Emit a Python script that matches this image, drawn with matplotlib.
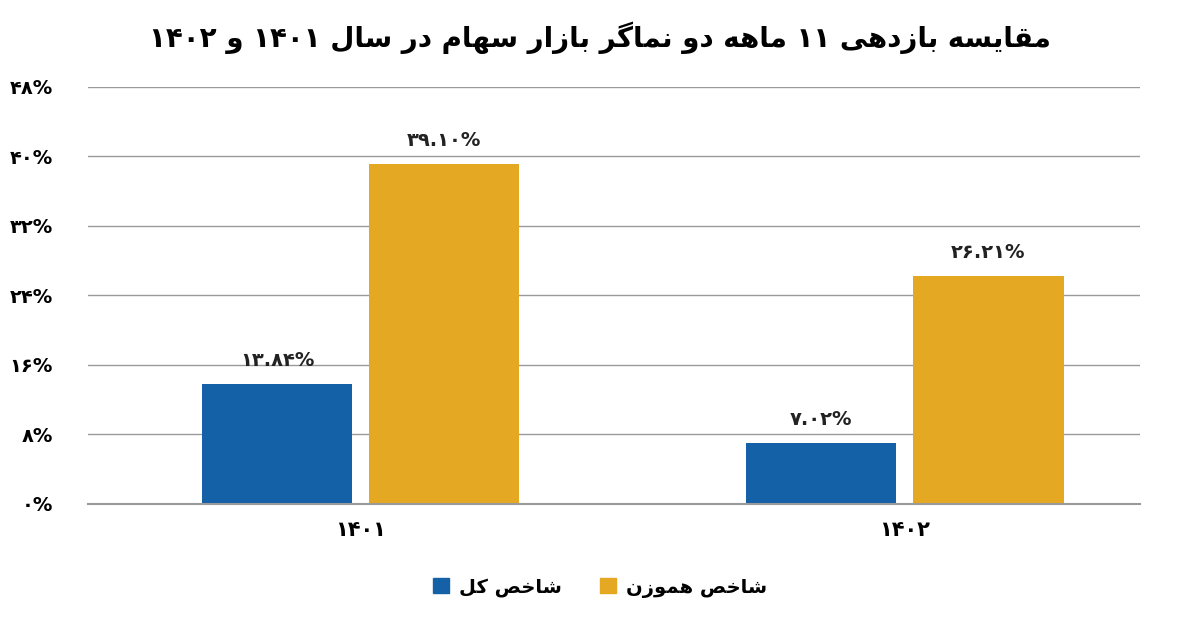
import matplotlib
matplotlib.use("Agg")
import matplotlib.pyplot as plt
from matplotlib.patches import Patch
import re

categories = ["۱۴۰۱", "۱۴۰۲"]
series_names = ["شاخص کل", "شاخص هموزن"]
total_index = [13.84, 7.02]
equal_index = [39.10, 26.21]
value_labels_total = ["۱۳.۸۴%", "۷.۰۲%"]
value_labels_equal = ["۳۹.۱۰%", "۲۶.۲۱%"]
yticks = [0, 8, 16, 24, 32, 40, 48]
ytick_labels = ["۰%", "۸%", "۱۶%", "۲۴%", "۳۲%", "۴۰%", "۴۸%"]
title = "مقایسه بازدهی ۱۱ ماهه دو نماگر بازار سهام در سال ۱۴۰۱ و ۱۴۰۲"

# --- minimal Persian shaping (matplotlib has no complex text layout) ---
FORMS = {
    'ا': (0xFE8D, 0xFE8E, None, None), 'ب': (0xFE8F, 0xFE90, 0xFE91, 0xFE92),
    'ت': (0xFE95, 0xFE96, 0xFE97, 0xFE98), 'س': (0xFEB1, 0xFEB2, 0xFEB3, 0xFEB4),
    'ش': (0xFEB5, 0xFEB6, 0xFEB7, 0xFEB8), 'ص': (0xFEB9, 0xFEBA, 0xFEBB, 0xFEBC),
    'خ': (0xFEA5, 0xFEA6, 0xFEA7, 0xFEA8), 'د': (0xFEA9, 0xFEAA, None, None),
    'ر': (0xFEAD, 0xFEAE, None, None), 'ز': (0xFEAF, 0xFEB0, None, None),
    'ق': (0xFED5, 0xFED6, 0xFED7, 0xFED8), 'ل': (0xFEDD, 0xFEDE, 0xFEDF, 0xFEE0),
    'م': (0xFEE1, 0xFEE2, 0xFEE3, 0xFEE4), 'ن': (0xFEE5, 0xFEE6, 0xFEE7, 0xFEE8),
    'ه': (0xFEE9, 0xFEEA, 0xFEEB, 0xFEEC), 'و': (0xFEED, 0xFEEE, None, None),
    'ی': (0xFBFC, 0xFBFD, 0xFBFE, 0xFBFF), 'ک': (0xFB8E, 0xFB8F, 0xFB90, 0xFB91),
    'گ': (0xFB92, 0xFB93, 0xFB94, 0xFB95), 'لا': (0xFEFB, 0xFEFC, None, None),
}

def shape(text):
    chars = []
    i = 0
    while i < len(text):
        if text[i] == 'ل' and i + 1 < len(text) and text[i + 1] == 'ا':
            chars.append('لا'); i += 2
        else:
            chars.append(text[i]); i += 1
    out = []
    for k, c in enumerate(chars):
        if c not in FORMS:
            out.append(c); continue
        f = FORMS[c]
        prev = chars[k - 1] if k > 0 else None
        nxt = chars[k + 1] if k + 1 < len(chars) else None
        jp = prev in FORMS and FORMS[prev][2] is not None
        jn = nxt in FORMS and f[2] is not None
        if jp and jn: cp = f[3]
        elif jp: cp = f[1]
        elif jn: cp = f[2]
        else: cp = f[0]
        out.append(chr(cp))
    s = ''.join(out)[::-1]
    return re.sub(r'[۰-۹0-9.%]+', lambda m: m.group(0)[::-1], s)

plt.rcParams['font.family'] = 'DejaVu Sans'
fig = plt.figure(figsize=(12, 6.25), dpi=100)
ax = fig.add_axes([0.073, 0.194, 0.877, 0.667])

blue, orange = '#1561A8', '#E5A823'
w, off = 0.276, 0.1535
x = range(len(categories))
b1 = ax.bar([i - off for i in x], total_index, w, color=blue, zorder=3)
b2 = ax.bar([i + off for i in x], equal_index, w, color=orange, zorder=3)
for bars, labs in ((b1, value_labels_total), (b2, value_labels_equal)):
    for r, l in zip(bars, labs):
        ax.text(r.get_x() + r.get_width() / 2, r.get_height() + 1.6, l,
                ha='center', va='bottom', fontsize=14, fontweight='bold', color='#222222')

ax.set_ylim(0, 48)
ax.set_xlim(-0.502, 1.432)
ax.set_yticks(yticks)
ax.set_yticklabels(ytick_labels, fontsize=14, fontweight='bold')
ax.set_xticks(list(x))
ax.set_xticklabels(categories, fontsize=15, fontweight='bold')
ax.tick_params(length=0, pad=12)
ax.tick_params(axis='y', pad=25)
ax.grid(axis='y', color='#9a9a9a', linewidth=1, zorder=0)
ax.axhline(0, color='#9a9a9a', linewidth=1.5, zorder=4, clip_on=False)
for s in ax.spines.values():
    s.set_visible(False)

fig.suptitle(shape(title), x=0.5, y=0.965, fontsize=20, fontweight='bold')
handles = [Patch(color=blue), Patch(color=orange)]
fig.legend(handles, [shape(n) for n in series_names], loc='center', bbox_to_anchor=(0.5, 0.06),
           ncol=2, frameon=False, prop={'size': 14, 'weight': 'bold'},
           handlelength=0.8, handleheight=0.8, columnspacing=2.0, handletextpad=0.5)
fig.savefig('out.png', dpi=100)
